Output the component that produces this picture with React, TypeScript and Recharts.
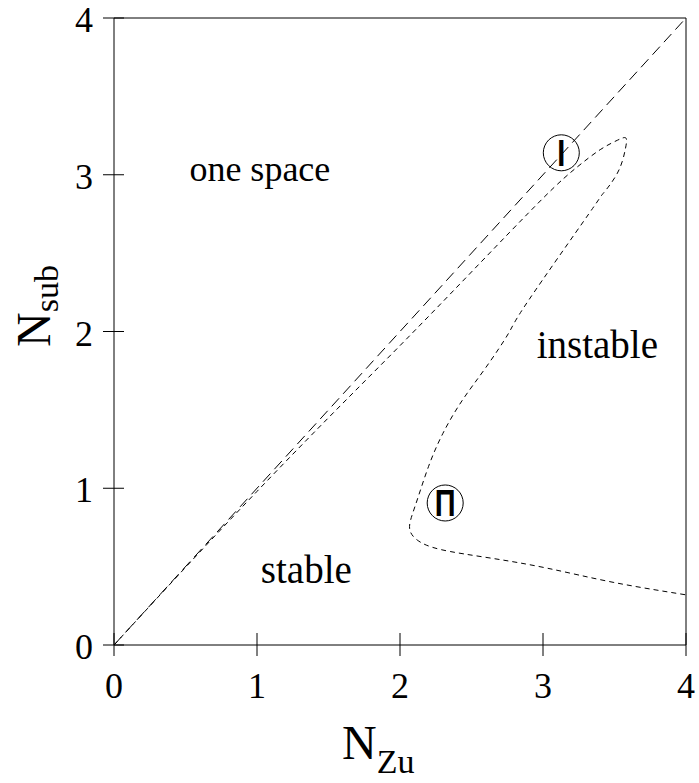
import React from "react";
import { ScatterChart, Scatter, XAxis, YAxis, ReferenceLine, Label } from "recharts";

const FONT = "'Liberation Serif', 'Times New Roman', serif";
const INK = "#000";

const axisTicks = [0, 1, 2, 3, 4];

// y = x, "one space" boundary
const diagonal = [
	{ x: 0, y: 0 },
	{ x: 4, y: 4 },
];

// stability boundary, origin -> tip -> nose -> right edge
const boundary = [
	{ x: 0, y: 0 },
	{ x: 0.5, y: 0.495 },
	{ x: 1, y: 0.98 },
	{ x: 1.5, y: 1.45 },
	{ x: 2, y: 1.91 },
	{ x: 2.5, y: 2.38 },
	{ x: 3, y: 2.85 },
	{ x: 3.24, y: 3.05 },
	{ x: 3.4, y: 3.16 },
	{ x: 3.52, y: 3.22 },
	{ x: 3.58, y: 3.234 },
	{ x: 3.575, y: 3.16 },
	{ x: 3.52, y: 3.01 },
	{ x: 3.42, y: 2.88 },
	{ x: 3.32, y: 2.75 },
	{ x: 2.9, y: 2.2 },
	{ x: 2.76, y: 1.99 },
	{ x: 2.6, y: 1.77 },
	{ x: 2.435, y: 1.56 },
	{ x: 2.3, y: 1.35 },
	{ x: 2.2, y: 1.14 },
	{ x: 2.12, y: 0.925 },
	{ x: 2.075, y: 0.8 },
	{ x: 2.07, y: 0.73 },
	{ x: 2.12, y: 0.67 },
	{ x: 2.28, y: 0.61 },
	{ x: 2.63, y: 0.555 },
	{ x: 3.03, y: 0.49 },
	{ x: 3.49, y: 0.4 },
	{ x: 4, y: 0.32 },
];

const markers = [
	{ x: 3.128, y: 3.14, label: "I" },
	{ x: 2.316, y: 0.906, label: "Π" },
];

const regions = [
	{ x: 1.02, y: 2.96, label: "one space", size: 36 },
	{ x: 1.345, y: 0.396, label: "stable", size: 39 },
	{ x: 3.38, y: 1.83, label: "instable", size: 39 },
];

const XTick = (props: any) => {
	const { x, y, payload } = props;
	return (
		<g>
			<line x1={x} x2={x} y1={y - 12} y2={y + 11} stroke={INK} />
			<text x={x} y={y + 53} textAnchor="middle" fontSize={36} fontFamily={FONT} fill={INK}>
				{payload.value}
			</text>
		</g>
	);
};

const YTick = (props: any) => {
	const { x, y, payload } = props;
	return (
		<g>
			<line x1={x - 11} x2={x + 10} y1={y} y2={y} stroke={INK} />
			<text x={x - 21} y={y + 14} textAnchor="end" fontSize={36} fontFamily={FONT} fill={INK}>
				{payload.value}
			</text>
		</g>
	);
};

const Marker = (props: any) => {
	const { cx, cy, payload } = props;
	return (
		<g>
			<circle cx={cx} cy={cy} r={18} fill="none" stroke={INK} strokeWidth={1} />
			<g transform={`translate(${cx}, ${cy}) scale(0.78, 1)`}>
				<text
					x={0}
					y={13}
					textAnchor="middle"
					fontSize={37}
					fontWeight="bold"
					fontFamily="'Liberation Sans', Arial, sans-serif"
					fill={INK}
				>
					{payload.label}
				</text>
			</g>
		</g>
	);
};

const RegionText = (props: any) => {
	const { cx, cy, payload } = props;
	return (
		<text x={cx} y={cy} textAnchor="middle" fontSize={payload.size} fontFamily={FONT} fill={INK}>
			{payload.label}
		</text>
	);
};

const App = () => {
	return (
		<div style={{ position: "absolute", left: 0, top: 0, background: "#fff" }}>
			<ScatterChart width={699} height={783} margin={{ top: 18, right: 13, left: 0, bottom: 0 }}>
				<XAxis
					type="number"
					dataKey="x"
					domain={[0, 4]}
					ticks={axisTicks}
					allowDataOverflow
					height={138}
					tickSize={0}
					tickMargin={0}
					tickLine={false}
					tick={<XTick />}
					axisLine={{ stroke: INK }}
				>
					<Label
						content={() => (
							<text x={342} y={759} fontSize={48} fontFamily={FONT} fill={INK}>
								N
								<tspan fontSize={34} dy={14}>
									Zu
								</tspan>
							</text>
						)}
					/>
				</XAxis>
				<YAxis
					type="number"
					dataKey="y"
					domain={[0, 4]}
					ticks={axisTicks}
					allowDataOverflow
					width={114}
					tickSize={0}
					tickMargin={0}
					tickLine={false}
					tick={<YTick />}
					axisLine={{ stroke: INK }}
				>
					<Label
						content={() => (
							<text
								transform="translate(50, 347) rotate(-90)"
								fontSize={48}
								fontFamily={FONT}
								fill={INK}
							>
								N
								<tspan fontSize={34} dy={8}>
									sub
								</tspan>
							</text>
						)}
					/>
				</YAxis>
				<ReferenceLine y={4} stroke={INK} />
				<ReferenceLine x={4} stroke={INK} />
				<Scatter
					data={diagonal}
					line={{ stroke: INK, strokeWidth: 1, strokeDasharray: "11 6" }}
					stroke={INK}
					strokeDasharray="11 6"
					fill="none"
					shape={() => <g />}
					isAnimationActive={false}
				/>
				<Scatter
					data={boundary}
					line={{ stroke: INK, strokeWidth: 1, strokeDasharray: "5 4" }}
					lineJointType="natural"
					stroke={INK}
					strokeDasharray="5 4"
					fill="none"
					shape={() => <g />}
					isAnimationActive={false}
				/>
				<Scatter data={markers} shape={<Marker />} isAnimationActive={false} />
				<Scatter data={regions} shape={<RegionText />} isAnimationActive={false} />
			</ScatterChart>
		</div>
	);
};

export default App;
